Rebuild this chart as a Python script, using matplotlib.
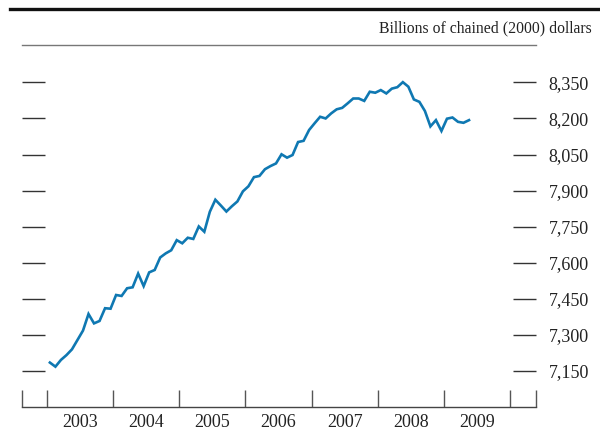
import matplotlib
matplotlib.use('Agg')
import matplotlib.pyplot as plt
from matplotlib.lines import Line2D

plt.rcParams['font.family'] = ['Liberation Serif', 'DejaVu Serif']

# monthly values, Jan 2003 - May 2009 (billions of chained 2000 dollars)
start_year = 2003
values = [7185, 7168, 7196, 7216, 7240, 7279, 7318, 7387, 7348, 7358, 7411, 7409,
          7466, 7462, 7494, 7498, 7555, 7503, 7560, 7570, 7622, 7639, 7652, 7694,
          7681, 7704, 7699, 7751, 7729, 7812, 7862, 7838, 7813, 7835, 7855, 7897,
          7918, 7956, 7961, 7989, 8002, 8013, 8051, 8037, 8048, 8102, 8107, 8152,
          8180, 8207, 8200, 8221, 8238, 8244, 8263, 8283, 8283, 8273, 8311, 8307,
          8318, 8304, 8324, 8330, 8351, 8332, 8279, 8269, 8231, 8167, 8193, 8148,
          8199, 8204, 8186, 8182, 8193]
years = [2003, 2004, 2005, 2006, 2007, 2008, 2009]
yticks = [7150, 7300, 7450, 7600, 7750, 7900, 8050, 8200, 8350]
ylabels = ['7,150', '7,300', '7,450', '7,600', '7,750', '7,900', '8,050', '8,200', '8,350']
unit_label = 'Billions of chained (2000) dollars'

x = [start_year + (i + 0.55) / 12 for i in range(len(values))]

fig = plt.figure(figsize=(6, 4.32), dpi=100)
ax = fig.add_axes([0.0362, 0.0586, 0.857, 0.837])

ax.plot(x, values, color='#0f78b2', linewidth=1.9, solid_joinstyle='miter')

ax.set_xlim(2002.62, 2010.39)
ax.set_ylim(7001.6, 8505)

# year boundaries and edge ticks
ax.set_xticks([2002.62] + [y for y in years] + [2010, 2010.39])
ax.set_xticklabels([])
ax.tick_params(axis='x', which='major', direction='in', length=12.5, width=1.0,
               color='#555555')
ax.set_xticks([y + 0.5 for y in years], minor=True)
ax.set_xticklabels([str(y) for y in years], minor=True)
ax.tick_params(axis='x', which='minor', length=0, pad=5, labelsize=13,
               labelcolor='#222222')

ax.set_yticks(yticks)
ax.set_yticklabels(ylabels)
ax.tick_params(axis='y', which='major', direction='in', length=16.8, width=1.0,
               color='#333333', left=True, right=True, labelleft=False,
               labelright=True, pad=9, labelsize=13, labelcolor='#222222')

ax.spines['left'].set_visible(False)
ax.spines['right'].set_visible(False)
ax.spines['bottom'].set_color('#444444')
ax.spines['bottom'].set_linewidth(1.0)
ax.spines['top'].set_color('#777777')
ax.spines['top'].set_linewidth(1.0)

fig.text(592 / 600, 1 - 28 / 432, unit_label, ha='right', va='center',
         fontsize=11.3, color='#222222')
fig.add_artist(Line2D([10 / 600, 1], [1 - 8.5 / 432, 1 - 8.5 / 432],
                      color='#111111', linewidth=2.4))

fig.savefig('out.png', dpi=100)
